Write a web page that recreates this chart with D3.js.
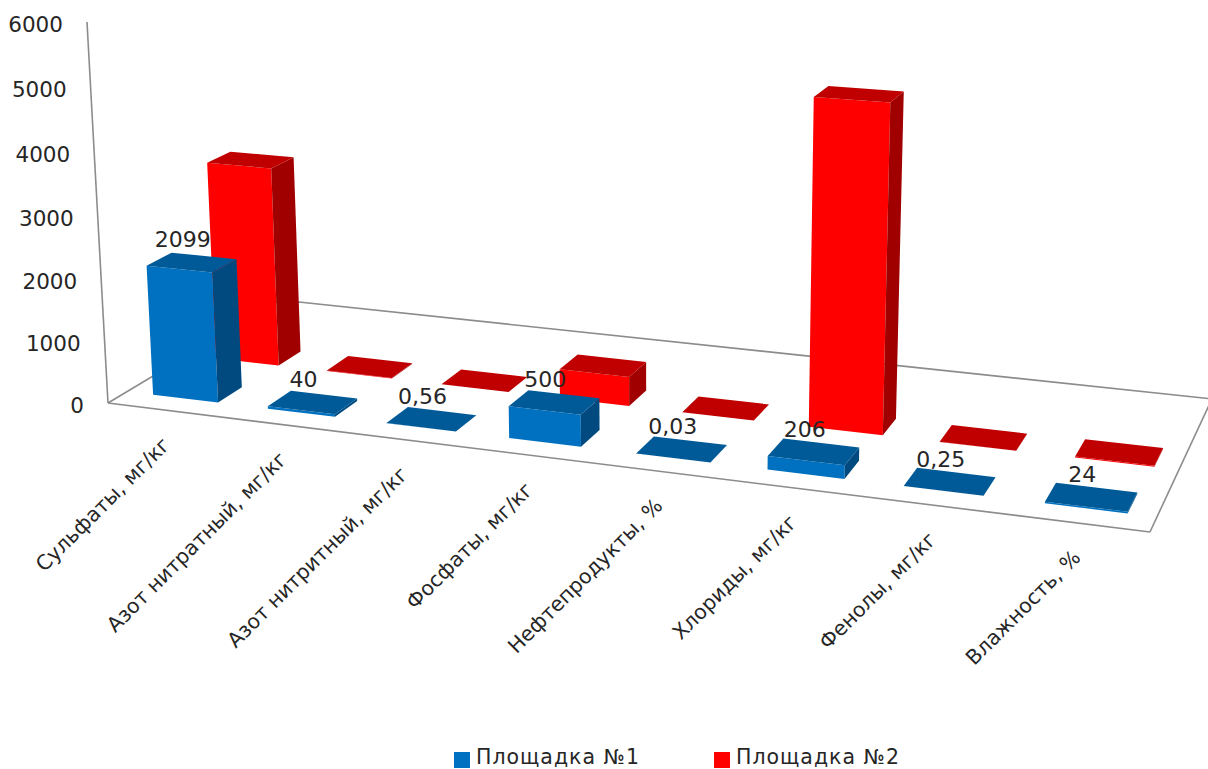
<!DOCTYPE html>
<html>
<head>
<meta charset="utf-8">
<script src="https://cdn.jsdelivr.net/npm/d3@7"></script>
<style>
  body { margin: 0; background: #fff; }
  text { font-family: "DejaVu Sans", sans-serif; fill: #262626; }
</style>
</head>
<body>
<div id="chart"></div>
<script>
//chart data
var categories = ["Сульфаты, мг/кг", "Азот нитратный, мг/кг", "Азот нитритный, мг/кг", "Фосфаты, мг/кг",
    "Нефтепродукты, %", "Хлориды, мг/кг", "Фенолы, мг/кг", "Влажность, %"];
var seriesNames = ["Площадка №1", "Площадка №2"];
var site1Values = [2099, 40, 0.56, 500, 0.03, 206, 0.25, 24];
var site2Values = [3280, 12, 0.4, 470, 0.02, 5070, 0.2, 15];
var site1Labels = ["2099", "40", "0,56", "500", "0,03", "206", "0,25", "24"];
var valueTicks = [0, 1000, 2000, 3000, 4000, 5000, 6000];

var svgWidth = 1208;
var svgHeight = 769;

var svg = d3.select("#chart")
    .append("svg")
    .attr("width", svgWidth)
    .attr("height", svgHeight)
    .style("display", "block");

//floor plane of the 3d box, homogeneous coefficients for (u, v) in 0..1
var floor = { a: 891.1, b: 207.5, c: 108, d: 59.2, e: -65, f: 403, g: -0.1312, h: 0.1268 };
//vanishing point of the vertical edges
var vanish = { x: 658, y: 10380 };

//scales work in box units, project() turns them into pixels
var uScale = d3.scaleBand().domain(categories).range([0, 1]).paddingInner(0.43).paddingOuter(0.215);
var vScale = d3.scaleBand().domain(seriesNames).range([0.1, 0.57]).paddingInner(0.6);
var zScale = d3.scaleLinear().domain([0, 6000]).range([0, -0.03678]);

function project(u, v, value) {
    var k = zScale(value);
    var w = floor.g * u + floor.h * v + 1 + k;
    return [
        (floor.a * u + floor.b * v + floor.c + k * vanish.x) / w,
        (floor.d * u + floor.e * v + floor.f + k * vanish.y) / w
    ];
}

var outline = d3.line();

//floor edges and the value axis
var boxEdges = [
    [[0, 0, 0], [0, 0, 6000]],
    [[0, 0, 0], [1, 0, 0]],
    [[1, 0, 0], [1, 1, 0]],
    [[0, 0, 0], [0, 1, 0]],
    [[0, 1, 0], [1, 1, 0]]
];

svg.append("g").selectAll("path")
    .data(boxEdges)
    .enter()
    .append("path")
    .attr("d", d => outline(d.map(p => project(p[0], p[1], p[2]))))
    .attr("fill", "none")
    .attr("stroke", "#8c8c8c")
    .attr("stroke-width", 1.6);

//value axis labels
svg.append("g").selectAll("text")
    .data(valueTicks)
    .enter()
    .append("text")
    .attr("x", d => project(0, 0, d)[0] - 24)
    .attr("y", d => project(0, 0, d)[1] + 2)
    .attr("dy", "0.36em")
    .attr("text-anchor", "end")
    .attr("font-size", "21.5px")
    .text(d => d);

//face colours per series, and the small sideways nudge each row gets
var faceColors = {
    "Площадка №1": { front: "#0070c0", top: "#005a98", side: "#004a80" },
    "Площадка №2": { front: "#ff0000", top: "#c00000", side: "#a00000" }
};
var rowShift = { "Площадка №1": 0.002, "Площадка №2": 0.005 };

//back row first so the front row covers it
var bars = [];
[[seriesNames[1], site2Values], [seriesNames[0], site1Values]].forEach(function(row) {
    row[1].forEach(function(value, i) {
        bars.push({ series: row[0], category: categories[i], value: value });
    });
});

function barFaces(d) {
    var u0 = uScale(d.category) + rowShift[d.series];
    var u1 = u0 + uScale.bandwidth();
    var v0 = vScale(d.series);
    var v1 = v0 + vScale.bandwidth();
    var z = d.value;
    return [
        { kind: "front", points: [[u0, v0, 0], [u1, v0, 0], [u1, v0, z], [u0, v0, z]] },
        { kind: "side", points: [[u1, v0, 0], [u1, v1, 0], [u1, v1, z], [u1, v0, z]] },
        { kind: "top", points: [[u0, v0, z], [u1, v0, z], [u1, v1, z], [u0, v1, z]] }
    ];
}

var barGroups = svg.append("g").selectAll("g")
    .data(bars)
    .enter()
    .append("g");

barGroups.selectAll("path")
    .data(d => barFaces(d).map(f => ({ kind: f.kind, points: f.points, series: d.series })))
    .enter()
    .append("path")
    .attr("d", d => outline(d.points.map(p => project(p[0], p[1], p[2]))) + "Z")
    .attr("fill", d => faceColors[d.series][d.kind]);

//value labels sit over the first series only
svg.append("g").selectAll("text")
    .data(site1Values)
    .enter()
    .append("text")
    .attr("transform", function(d, i) {
        var u = uScale(categories[i]) + uScale.bandwidth() / 2 + rowShift[seriesNames[0]];
        var v = vScale(seriesNames[0]) + vScale.bandwidth() / 2;
        var p = project(u, v, d);
        return `translate(${p[0] - 9}, ${p[1] - 23})`;
    })
    .attr("dy", "0.36em")
    .attr("text-anchor", "middle")
    .attr("font-size", "22px")
    .text((d, i) => site1Labels[i]);

//category labels hang under the front edge
svg.append("g").selectAll("text")
    .data(categories)
    .enter()
    .append("text")
    .attr("transform", function(d) {
        var u = uScale(d) + uScale.bandwidth() / 2;
        var p = project(u, 0, 0);
        return `translate(${p[0] + 6}, ${p[1] + 36}) rotate(-45)`;
    })
    .attr("text-anchor", "end")
    .attr("font-size", "20.5px")
    .text(d => d);

//legend
var legendX = d3.scalePoint().domain(seriesNames).range([454, 714]);

var legend = svg.append("g").selectAll("g")
    .data(seriesNames)
    .enter()
    .append("g")
    .attr("transform", d => `translate(${legendX(d)}, 752)`);

legend.append("rect")
    .attr("width", 16)
    .attr("height", 16)
    .attr("fill", d => faceColors[d].front);

legend.append("text")
    .attr("x", 22)
    .attr("y", 5)
    .attr("dy", "0.36em")
    .attr("font-size", "20.5px")
    .attr("letter-spacing", "1px")
    .text(d => d);
</script>
</body>
</html>
